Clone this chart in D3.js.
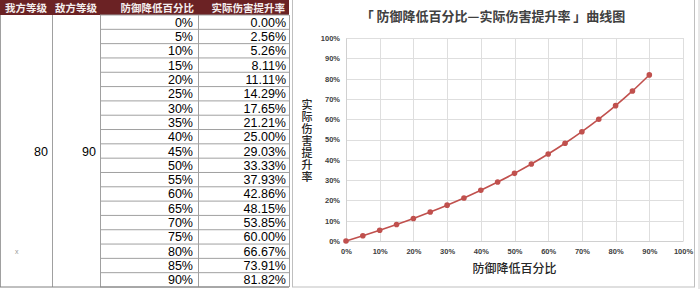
<!DOCTYPE html>
<html>
<head>
<meta charset="utf-8">
<script src="https://cdn.jsdelivr.net/npm/d3@7"></script>
<style>
  body { margin: 0; background: #fff; }
  svg { display: block; }
</style>
</head>
<body>
<svg id="chart"></svg>
<script>
// data
const headers = ["我方等级", "敌方等级", "防御降低百分比", "实际伤害提升率"];
const myLevel = "80";
const enemyLevel = "90";
const defReduce = [0, 0.05, 0.10, 0.15, 0.20, 0.25, 0.30, 0.35, 0.40, 0.45, 0.50, 0.55, 0.60, 0.65, 0.70, 0.75, 0.80, 0.85, 0.90];
const dmgBoost = [0, 0.0256, 0.0526, 0.0811, 0.1111, 0.1429, 0.1765, 0.2121, 0.25, 0.2903, 0.3333, 0.3793, 0.4286, 0.4815, 0.5385, 0.60, 0.6667, 0.7391, 0.8182];
const axisTicks = [0, 0.1, 0.2, 0.3, 0.4, 0.5, 0.6, 0.7, 0.8, 0.9, 1.0];
const chartTitle = "「 防御降低百分比—实际伤害提升率 」曲线图";
const xTitle = "防御降低百分比";
const yTitle = "实际伤害提升率";

const width = 700, height = 289;
const cjk = "'Noto Sans CJK SC', 'Noto Sans', sans-serif";
const num = "'Liberation Sans', Arial, sans-serif";

const svg = d3.select("#chart")
  .attr("width", width)
  .attr("height", height)
  .attr("viewBox", [0, 0, width, height]);

// ---------- table ----------
const colX = [0, 52, 100, 198, 289];
const headH = 15, rowTop = 15, rowH = (287 - 15) / defReduce.length;
const gridColor = "#a0a0a0";

const table = svg.append("g");

table.append("rect")
  .attr("x", 0).attr("y", 0)
  .attr("width", colX[4]).attr("height", headH)
  .attr("fill", "#6b2224");

table.selectAll("text.head")
  .data(headers)
  .join("text")
    .attr("class", "head")
    .attr("x", (d, i) => i < 2 ? (colX[i] + colX[i + 1]) / 2 : colX[i + 1] - 4)
    .attr("y", headH / 2 + 4)
    .attr("text-anchor", (d, i) => i < 2 ? "middle" : "end")
    .attr("fill", "#f4eeee")
    .style("font-family", cjk)
    .style("font-weight", 700)
    .style("font-size", "10.5px")
    .text(d => d);

// row lines only in the two right columns
table.selectAll("line.row")
  .data(d3.range(defReduce.length + 1))
  .join("line")
    .attr("class", "row")
    .attr("x1", colX[2]).attr("x2", colX[4])
    .attr("y1", i => rowTop + i * rowH)
    .attr("y2", i => rowTop + i * rowH)
    .attr("stroke", gridColor);

table.selectAll("line.col")
  .data(colX)
  .join("line")
    .attr("class", "col")
    .attr("x1", d => d + 0.5).attr("x2", d => d + 0.5)
    .attr("y1", headH).attr("y2", rowTop + defReduce.length * rowH)
    .attr("stroke", gridColor);

table.append("line")
  .attr("x1", 0).attr("x2", colX[4])
  .attr("y1", rowTop + defReduce.length * rowH).attr("y2", rowTop + defReduce.length * rowH)
  .attr("stroke", "#808080");

const rows = table.selectAll("g.r")
  .data(defReduce)
  .join("g")
    .attr("class", "r")
    .attr("transform", (d, i) => `translate(0, ${rowTop + i * rowH + rowH / 2 + 4.5})`);

rows.append("text")
  .attr("x", colX[3] - 5)
  .attr("text-anchor", "end")
  .style("font-family", num)
  .style("font-size", "12.5px")
  .text(d => d3.format(".0%")(d));

rows.append("text")
  .attr("x", colX[4] - 3)
  .attr("text-anchor", "end")
  .style("font-family", num)
  .style("font-size", "12.5px")
  .text((d, i) => d3.format(".2%")(dmgBoost[i]));

const midY = rowTop + defReduce.length * rowH / 2 + 4.5;
table.append("text")
  .attr("x", colX[1] - 4).attr("y", midY)
  .attr("text-anchor", "end")
  .style("font-family", num).style("font-size", "12.5px")
  .text(myLevel);
table.append("text")
  .attr("x", colX[2] - 4).attr("y", midY)
  .attr("text-anchor", "end")
  .style("font-family", num).style("font-size", "12.5px")
  .text(enemyLevel);
table.append("text")
  .attr("x", 15).attr("y", 254)
  .attr("fill", "#999")
  .style("font-family", num).style("font-size", "7px")
  .text("x");

// ---------- chart ----------
const box = { left: 292, top: 0, right: 694, bottom: 287 };
svg.append("rect")
  .attr("x", box.left + 0.5).attr("y", box.top - 1)
  .attr("width", box.right - box.left).attr("height", box.bottom - box.top + 1)
  .attr("fill", "#fff")
  .attr("stroke", "#bfbfbf");
svg.append("line")
  .attr("x1", box.right + 5).attr("x2", box.right + 5)
  .attr("y1", 0).attr("y2", height)
  .attr("stroke", "#d0d0d0");

const x = d3.scaleLinear([0, 1], [346, 683]);
const y = d3.scaleLinear([0, 1], [241, 38]);
const pct = d3.format(".0%");

svg.append("text")
  .attr("x", 493).attr("y", 21)
  .attr("text-anchor", "middle")
  .attr("fill", "#404040")
  .style("font-family", cjk)
  .style("font-weight", 700)
  .style("font-size", "13px")
  .text(chartTitle);

// grid
svg.append("g")
  .selectAll("line")
  .data(axisTicks)
  .join("line")
    .attr("x1", x(0)).attr("x2", x(1))
    .attr("y1", d => Math.round(y(d)) + 0.5).attr("y2", d => Math.round(y(d)) + 0.5)
    .attr("stroke", "#dedede");
svg.append("g")
  .selectAll("line")
  .data(axisTicks)
  .join("line")
    .attr("y1", y(0)).attr("y2", y(1))
    .attr("x1", d => Math.round(x(d)) + 0.5).attr("x2", d => Math.round(x(d)) + 0.5)
    .attr("stroke", "#dedede");

const xAxis = svg.append("g")
  .attr("transform", `translate(0, ${y(0)})`)
  .call(d3.axisBottom(x).tickValues(axisTicks).tickFormat(pct).tickSize(0).tickPadding(8))
  .call(g => g.select(".domain").attr("stroke", "#d0d0d0"));
const yAxis = svg.append("g")
  .attr("transform", `translate(${x(0)}, 0)`)
  .call(d3.axisLeft(y).tickValues(axisTicks).tickFormat(pct).tickSize(0).tickPadding(6))
  .call(g => g.select(".domain").attr("stroke", "#d0d0d0"));
[xAxis, yAxis].forEach(g => g.selectAll("text")
  .attr("fill", "#404040")
  .style("font-family", num)
  .style("font-weight", 700)
  .style("font-size", "7.5px"));

svg.append("text")
  .attr("x", x(0.5)).attr("y", 273)
  .attr("text-anchor", "middle")
  .attr("fill", "#262626")
  .style("font-family", cjk)
  .style("font-weight", 500)
  .style("font-size", "12px")
  .text(xTitle);

// vertical y-axis title, one text element
svg.append("text")
  .attr("x", 307)
  .attr("y", 99)
  .style("writing-mode", "vertical-rl")
  .style("text-orientation", "upright")
  .style("letter-spacing", "1px")
  .attr("fill", "#262626")
  .style("font-family", cjk)
  .style("font-weight", 500)
  .style("font-size", "11px")
  .text(yTitle);

const lineColor = "#c0504d";
const idx = d3.range(defReduce.length);
svg.append("path")
  .datum(idx)
  .attr("fill", "none")
  .attr("stroke", lineColor)
  .attr("stroke-width", 1.6)
  .attr("d", d3.line().x(i => x(defReduce[i])).y(i => y(dmgBoost[i])).curve(d3.curveMonotoneX));

svg.append("g")
  .selectAll("circle")
  .data(idx)
  .join("circle")
    .attr("cx", i => x(defReduce[i]))
    .attr("cy", i => y(dmgBoost[i]))
    .attr("r", 2.8)
    .attr("fill", lineColor);
</script>
</body>
</html>
